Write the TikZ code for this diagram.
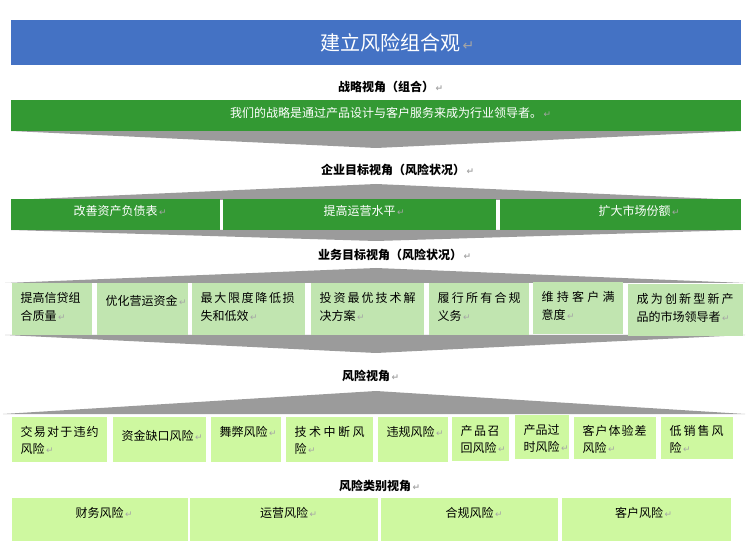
\documentclass[tikz,border=0pt]{standalone}
\usepackage{fontspec}
\setmainfont{Noto Sans CJK SC}
\newfontfamily\retfont{DejaVu Sans}
\definecolor{riskblue}{RGB}{68,114,196}
\definecolor{stratgreen}{RGB}{51,153,51}
\definecolor{bizgreen}{RGB}{193,229,176}
\definecolor{riskgreen}{RGB}{206,248,160}
\definecolor{wedgegray}{RGB}{155,155,155}
\definecolor{retgray}{RGB}{165,165,165}
\newcommand\ret[1][9]{\rlap{\fontsize{#1}{#1}\retfont\color{retgray}\,↵}}
\def\spreadchars#1#2{#1\ifx#2\relax\else\hfil\expandafter\spreadchars\expandafter#2\fi}
\newcommand\spread[2]{\hbox to #1pt{\spreadchars#2\relax}}

\begin{document}
\begin{tikzpicture}[x=1pt,y=-1pt,font=\fontsize{12}{18}\selectfont,
  cell/.code 2 args={\pgfmathsetmacro\cellw{#1-17}%
    \edef\celltmp{\noexpand\pgfkeysalso{text width=\cellw pt,minimum height=#2pt}}\celltmp},
  box/.style={anchor=north west,inner xsep=8.5pt,inner ysep=0pt},
  bar/.style={box,fill=stratgreen,text=white,align=center},
  biz/.style={box,fill=bizgreen,align=left,text depth=24pt},
  risk/.style={box,fill=riskgreen,align=left,font=\fontsize{12}{17}\selectfont,text depth=17.5pt},
  cat/.style={box,fill=riskgreen,align=center,text depth=14.5pt},
  head/.style={font=\fontsize{12}{18}\selectfont\bfseries},
  wedge/.style={fill=wedgegray}]
  \useasboundingbox (0,0) rectangle (750,553);
  \fill[wedge] (11,131) -- (741,131) -- (376,148) -- cycle;
  \fill[wedge] (11,200) -- (741,200) -- (376,184) -- cycle;
  \fill[wedge] (11,230) -- (741,230) -- (376,241) -- cycle;
  \fill[wedge] (5,283) -- (745,283) -- (376,268) -- cycle;
  \fill[wedge] (5,335) -- (745,335) -- (376,353) -- cycle;
  \fill[wedge] (3,414) -- (745,414) -- (376,391) -- cycle;

  \node[box,fill=riskblue,text=white,align=center,cell={730}{45},
    font=\fontsize{20}{24}\selectfont] (title) at (11,20) {\hspace*{28pt}建立风险组合观\ret[14]};

  \node[head] (strathead) at (386,87) {战略视角（组合）\ret};
  \node[bar,cell={730}{31},text depth=6.5pt] (strategy) at (11,100)
    {\hspace*{20pt}我们的战略是通过产品设计与客户服务来成为行业领导者。\ret};

  \node[head] (goalhead) at (393,170) {企业目标视角（风险状况）\ret};
  \node[bar,cell={209}{31},text depth=9.5pt] (goal1) at (11,199) {改善资产负债表\ret};
  \node[bar,cell={273}{31},text depth=9.5pt] (goal2) at (223,199) {提高运营水平\ret};
  \node[bar,cell={241}{31},text depth=9.5pt] (goal3) at (500,199) {\hspace*{28pt}扩大市场份额\ret};

  \node[head] (bizhead) at (390,255) {业务目标视角（风险状况）\ret};
  \node[biz,cell={80}{52}] (biz1) at (12,283) {提高信贷组\\合质量\ret};
  \node[biz,cell={91}{52},text depth=17.5pt] (biz2) at (97,283) {优化营运资金\ret};
  \node[biz,cell={113}{52}] (biz3) at (192,283) {\spread{94}{最大限度降低损}\\失和低效\ret};
  \node[biz,cell={113}{52}] (biz4) at (311,283) {\spread{96}{投资最优技术解}\\决方案\ret};
  \node[biz,cell={100}{52}] (biz5) at (429,283) {\spread{83}{履行所有合规}\\义务\ret};
  \node[biz,cell={90}{52}] (biz6) at (533,282) {\spread{73}{维持客户满}\\意度\ret};
  \node[biz,cell={115}{52}] (biz7) at (628,284) {\spread{97}{成为创新型新产}\\品的市场领导者\ret};

  \node[head] (riskhead) at (366,376) {风险视角\ret};
  \node[risk,cell={95}{45}] (risk1) at (12,417) {\spread{78}{交易对于违约}\\风险\ret};
  \node[risk,cell={93}{45},text depth=8.5pt] (risk2) at (113,417) {资金缺口风险\ret};
  \node[risk,cell={70}{45},text depth=16.5pt] (risk3) at (211,417) {舞弊风险\ret};
  \node[risk,cell={87}{45}] (risk4) at (286,417) {\spread{70}{技术中断风}\\险\ret};
  \node[risk,cell={70}{45},text depth=16.5pt] (risk5) at (378,417) {违规风险\ret};
  \node[risk,cell={57}{44}] (risk6) at (452,417) {\spread{39}{产品召}\\回风险\ret};
  \node[risk,cell={54}{44},text depth=15pt] (risk7) at (515,415) {产品过\\时风险\ret};
  \node[risk,cell={82}{42},text depth=15pt] (risk8) at (574,417) {\spread{64}{客户体验差}\\风险\ret};
  \node[risk,cell={72}{42},text depth=15pt] (risk9) at (661,417) {\spread{54}{低销售风}\\险\ret};

  \node[head] (cathead) at (375,486) {风险类别视角\ret};
  \node[cat,cell={176}{43}] (cat1) at (11.5,498) {财务风险\ret};
  \node[cat,cell={188}{43}] (cat2) at (190,498) {运营风险\ret};
  \node[cat,cell={177}{43}] (cat3) at (381,498) {合规风险\ret};
  \node[cat,cell={169}{43}] (cat4) at (562,498) {\hspace*{-15pt}客户风险\ret};
\end{tikzpicture}
\end{document}
